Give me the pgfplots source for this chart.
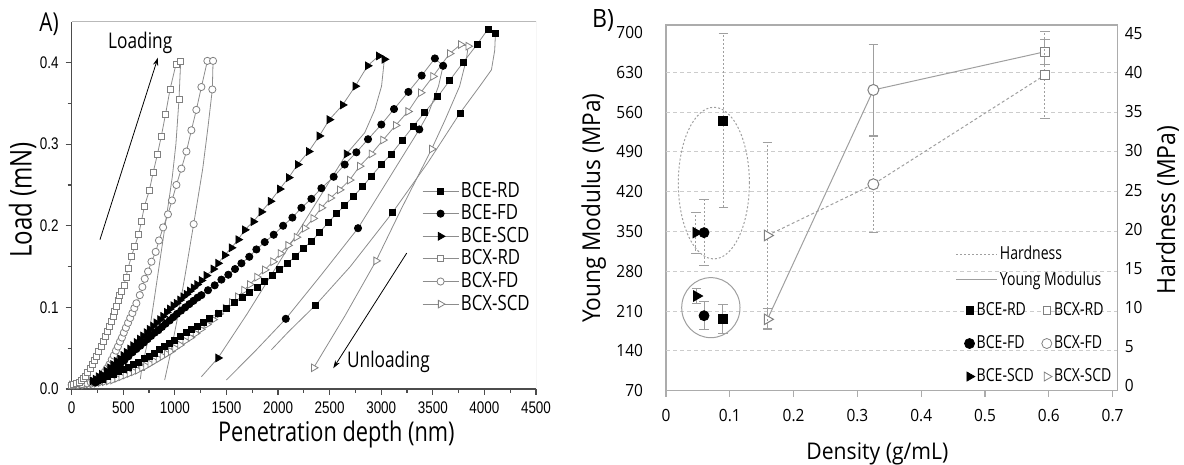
\documentclass[border=0pt]{standalone}
\usepackage{fontspec}
\setmainfont{Open Sans}
\newfontfamily\fa[FakeStretch=0.8]{Open Sans}
\newfontfamily\fat[FakeStretch=0.8]{Liberation Sans}
\newfontfamily\fb[FakeStretch=0.92]{Open Sans}
\newfontfamily\fbl[FakeStretch=0.78]{Open Sans}
\usepackage{pgfplots}
\pgfplotsset{compat=1.18}
\usetikzlibrary{arrows.meta}

\definecolor{ln}{gray}{0.55}
\definecolor{bcx}{gray}{0.5}
\definecolor{grd}{gray}{0.8}
\definecolor{ax}{gray}{0.3}

\pgfplotsset{
  eRD/.style={color=ln, line width=0.4pt, mark=square*, mark size=1.5pt, mark options={solid, fill=black, draw=black}},
  eFD/.style={color=ln, line width=0.4pt, mark=*, mark size=1.8pt, mark options={solid, fill=black, draw=black}},
  eSCD/.style={color=ln, line width=0.4pt, mark=triangle*, mark size=2.2pt, mark options={solid, fill=black, draw=black, rotate=-90}},
  xRD/.style={color=ln, line width=0.4pt, mark=square*, mark size=1.5pt, mark options={solid, fill=white, draw=bcx}},
  xFD/.style={color=ln, line width=0.4pt, mark=*, mark size=1.8pt, mark options={solid, fill=white, draw=bcx}},
  xSCD/.style={color=ln, line width=0.4pt, mark=triangle*, mark size=2.2pt, mark options={solid, fill=white, draw=bcx, rotate=-90}},
  unl/.style={color=ln, line width=0.4pt},
  yerr/.style={/pgfplots/error bars/y dir=both, /pgfplots/error bars/y explicit,
    /pgfplots/error bars/error bar style={gray!75, line width=0.5pt, solid},
    /pgfplots/error bars/error mark options={rotate=90, gray!75, mark size=2.4pt, line width=0.5pt, solid}},
  herr/.style={/pgfplots/error bars/y dir=both, /pgfplots/error bars/y explicit,
    /pgfplots/error bars/error bar style={gray!75, line width=0.5pt, dash pattern=on 1pt off 1pt},
    /pgfplots/error bars/error mark options={rotate=90, gray!75, mark size=2.4pt, line width=0.5pt, solid}},
}

\begin{document}
\begin{tikzpicture}
\path[use as bounding box] (0,0) rectangle (592pt,232.5pt);

% ---------------- A) load-depth curves
\begin{axis}[
  at={(35.85pt,38pt)}, anchor=south west,
  scale only axis, width=232.15pt, height=183.65pt,
  xmin=0, xmax=4500, ymin=0, ymax=0.45,
  axis x line*=bottom, axis y line*=left,
  axis line style={ax, line width=0.8pt, -},
  xtick={0,500,1000,1500,2000,2500,3000,3500,4000,4500},
  ytick={0,0.1,0.2,0.3,0.4},
  minor x tick num=1, minor y tick num=1,
  tick align=outside, major tick length=3pt, minor tick length=2pt,
  tick style={ax, line width=0.6pt},
  /pgf/number format/assume math mode=true,
  ticklabel style={font=\fat\fontsize{8.4}{10}\selectfont},
  xticklabel style={/pgf/number format/1000 sep={}},
  yticklabel style={/pgf/number format/fixed, /pgf/number format/fixed zerofill, /pgf/number format/precision=1},
  xlabel={Penetration depth (nm)}, ylabel={Load (mN)},
  xlabel style={font=\fa\fontsize{13.6}{15}\selectfont, at={(axis description cs:0.570,-0.1435)}, anchor=base},
  ylabel style={font=\fa\fontsize{15}{16}\selectfont, at={(axis description cs:-0.0862,0.515)}, anchor=base, rotate=0},
  legend style={draw=none, fill=none, at={(0.754,0.385)}, anchor=west,
    font=\fa\fontsize{10.5}{11}\selectfont, inner sep=0pt, row sep=0.2pt, nodes={inner sep=1pt}},
  legend cell align=left,
  legend image code/.code={\draw[mark repeat=2,mark phase=2] plot coordinates {(0pt,0pt) (9pt,0pt) (18pt,0pt)};},
]
% unloading branches
\addplot[unl, forget plot] coordinates {(1056,0.401) (1040,0.355) (1010,0.300) (975,0.260) (943,0.232) (870,0.170) (800,0.110) (740,0.060) (680,0.026) (665,0.012)};
\addplot[unl, forget plot] coordinates {(1370,0.402) (1363,0.367) (1320,0.320) (1270,0.270) (1225,0.235) (1182,0.202) (1100,0.140) (1030,0.090) (960,0.045) (901,0.011)};
\addplot[unl, forget plot] coordinates {(3843,0.420) (3825,0.404) (3760,0.371) (3620,0.330) (3489,0.294) (3200,0.222) (2950,0.157) (2650,0.090) (2345,0.026)};
\addplot[unl, forget plot] coordinates {(4107,0.436) (4100,0.415) (4068,0.391) (3955,0.371) (3763,0.338) (3450,0.277) (3108,0.216) (2700,0.150) (2358,0.102) (2100,0.070) (1935,0.048)};
\addplot[unl, forget plot] coordinates {(3600,0.396) (3555,0.371) (3458,0.338) (3369,0.318) (3070,0.257) (2775,0.197) (2420,0.140) (2075,0.086) (1790,0.048) (1499,0.011)};
\addplot[unl, forget plot] coordinates {(3030,0.404) (3019,0.390) (3003,0.371) (2937,0.342) (2840,0.314) (2663,0.288) (2310,0.216) (2000,0.153) (1700,0.092) (1418,0.038) (1257,0.015)};
% markers on the unloading branches
\addplot[xRD, only marks, forget plot] coordinates {(1040,0.355) (680,0.026)};
\addplot[xFD, only marks, forget plot] coordinates {(1363,0.367) (1182,0.202)};
\addplot[xSCD, only marks, forget plot] coordinates {(3489,0.294) (2950,0.157) (2345,0.026)};
\addplot[eRD, only marks, forget plot] coordinates {(3763,0.338) (3108,0.216) (2358,0.102)};
\addplot[eFD, only marks, forget plot] coordinates {(3369,0.318) (2775,0.197) (2075,0.086)};
\addplot[eSCD, only marks, forget plot] coordinates {(2663,0.288) (1418,0.038)};
% loading branches
\addplot[xSCD, forget plot] coordinates {
(0,0.005) (40,0.005) (80,0.005) (120,0.005) (160,0.006) (200,0.006) (240,0.007) (280,0.008) (320,0.009) (360,0.010)
(400,0.011) (440,0.013) (480,0.015) (520,0.017) (560,0.019) (600,0.021) (640,0.023) (680,0.026) (720,0.028) (760,0.031)
(800,0.034) (840,0.037) (880,0.040) (920,0.043) (960,0.046) (1000,0.050) (1050,0.054) (1100,0.059) (1150,0.063) (1200,0.068)
(1250,0.073) (1310,0.079) (1370,0.085) (1430,0.092) (1490,0.099) (1550,0.106) (1610,0.113) (1670,0.121) (1725,0.128) (1796,0.137)
(1871,0.146) (1951,0.156) (2023,0.166) (2097,0.176) (2178,0.186) (2258,0.197) (2341,0.209) (2420,0.222) (2507,0.234) (2597,0.244)
(2694,0.256) (2791,0.273) (2905,0.288) (3017,0.305) (3140,0.323) (3260,0.340) (3382,0.363) (3502,0.383) (3663,0.411) (3770,0.422) (3843,0.420)};
\addplot[xFD, forget plot] coordinates {
(0,0.005) (50,0.005) (100,0.006) (150,0.007) (185,0.008) (210,0.009) (235,0.011) (260,0.013) (281,0.015) (300,0.018)
(320,0.021) (340,0.025) (365,0.030) (388,0.036) (408,0.041) (429,0.047) (448,0.052) (468,0.058) (487,0.063) (505,0.069)
(525,0.075) (546,0.081) (567,0.087) (588,0.093) (607,0.099) (627,0.105) (660,0.115) (685,0.125) (708,0.135) (740,0.144)
(773,0.156) (814,0.168) (846,0.182) (886,0.198) (933,0.214) (972,0.231) (1015,0.250) (1063,0.270) (1112,0.291) (1160,0.317)
(1208,0.342) (1257,0.370) (1315,0.402) (1370,0.402)};
\addplot[xRD, forget plot] coordinates {
(0,0.005) (20,0.006) (45,0.007) (70,0.008) (95,0.010) (113,0.013) (135,0.016) (155,0.020) (177,0.025) (200,0.030)
(220,0.035) (240,0.040) (262,0.046) (288,0.052) (305,0.058) (323,0.064) (345,0.070) (365,0.077) (383,0.083) (400,0.089)
(417,0.095) (433,0.101) (450,0.108) (465,0.115) (485,0.120) (506,0.127) (526,0.137) (546,0.148) (578,0.162) (611,0.175)
(650,0.190) (675,0.205) (705,0.224) (752,0.243) (789,0.265) (830,0.287) (869,0.310) (910,0.337) (953,0.367) (1011,0.398) (1056,0.401)};
\addplot[eRD, forget plot] coordinates {
(250,0.010) (300,0.012) (350,0.015) (400,0.018) (450,0.021) (500,0.024) (550,0.027) (600,0.030) (650,0.033) (700,0.037)
(750,0.040) (800,0.044) (850,0.048) (900,0.052) (950,0.056) (1000,0.060) (1050,0.064) (1112,0.069) (1160,0.073) (1215,0.077)
(1273,0.082) (1337,0.087) (1418,0.093) (1499,0.099) (1580,0.106) (1657,0.112) (1725,0.118) (1796,0.125) (1871,0.132) (1948,0.139)
(2016,0.146) (2089,0.154) (2171,0.163) (2242,0.172) (2323,0.181) (2404,0.192) (2485,0.204) (2568,0.215) (2646,0.225) (2730,0.236)
(2820,0.248) (2905,0.261) (3001,0.275) (3098,0.288) (3205,0.305) (3311,0.322) (3421,0.339) (3547,0.358) (3663,0.378) (3793,0.400)
(3928,0.422) (4035,0.441) (4107,0.436)};
\addplot[eFD, forget plot] coordinates {
(230,0.008) (260,0.010) (300,0.012) (340,0.016) (380,0.020) (420,0.025) (468,0.030) (510,0.035) (550,0.040) (590,0.045)
(627,0.049) (665,0.053) (700,0.057) (735,0.061) (770,0.065) (805,0.069) (840,0.072) (875,0.076) (910,0.080) (950,0.084)
(985,0.088) (1020,0.092) (1060,0.096) (1100,0.100) (1140,0.104) (1180,0.108) (1220,0.112) (1257,0.115) (1321,0.121) (1386,0.127)
(1451,0.134) (1518,0.140) (1583,0.147) (1645,0.154) (1721,0.162) (1790,0.171) (1871,0.180) (1958,0.189) (2049,0.200) (2139,0.210)
(2226,0.222) (2323,0.233) (2420,0.246) (2539,0.260) (2646,0.275) (2759,0.290) (2872,0.306) (3001,0.324) (3124,0.343) (3263,0.364)
(3392,0.384) (3520,0.405) (3600,0.396)};
\addplot[eSCD, forget plot] coordinates {
(200,0.010) (230,0.012) (260,0.015) (290,0.018) (336,0.022) (370,0.026) (400,0.030) (435,0.034) (468,0.037) (500,0.041)
(530,0.045) (565,0.049) (595,0.053) (627,0.057) (660,0.061) (690,0.065) (725,0.069) (755,0.073) (788,0.077) (820,0.081)
(855,0.085) (885,0.089) (920,0.094) (950,0.098) (985,0.102) (1015,0.105) (1050,0.109) (1080,0.113) (1112,0.116) (1145,0.120)
(1180,0.124) (1215,0.128) (1257,0.133) (1305,0.139) (1372,0.147) (1418,0.154) (1483,0.164) (1548,0.173) (1613,0.183) (1677,0.195)
(1760,0.205) (1838,0.217) (1926,0.230) (2016,0.245) (2103,0.259) (2190,0.275) (2297,0.291) (2400,0.310) (2497,0.330) (2626,0.348)
(2748,0.371) (2868,0.396) (2975,0.408) (3030,0.404)};
% legend
\addlegendimage{eRD}\addlegendentry{BCE-RD}
\addlegendimage{eFD}\addlegendentry{BCE-FD}
\addlegendimage{eSCD}\addlegendentry{BCE-SCD}
\addlegendimage{xRD}\addlegendentry{BCX-RD}
\addlegendimage{xFD}\addlegendentry{BCX-FD}
\addlegendimage{xSCD}\addlegendentry{BCX-SCD}
% frame, arrows and notes
\draw[gray!55, line width=0.5pt] (rel axis cs:0,1) -- (rel axis cs:1,1) -- (rel axis cs:1,0);
\draw[line width=0.4pt, -{Stealth[length=4pt, width=2.6pt]}] (axis cs:274,0.183) -- (axis cs:836,0.406);
\draw[line width=0.4pt, -{Stealth[length=4pt, width=2.6pt]}] (axis cs:3247,0.1665) -- (axis cs:2535,0.0254);
\node[font=\fa\fontsize{10.8}{12}\selectfont] at (axis cs:664,0.424) {Loading};
\node[font=\fa\fontsize{10.8}{12}\selectfont, anchor=west, inner sep=0pt] at (axis cs:2665,0.0335) {Unloading};
\end{axis}

% ---------------- B) Young modulus (left axis)
\begin{axis}[
  at={(333pt,37.15pt)}, anchor=south west,
  scale only axis, width=225.85pt, height=182.85pt,
  xmin=0, xmax=0.708, ymin=70, ymax=713,
  axis line style={gray!65, line width=0.6pt},
  xtick={0,0.1,0.2,0.3,0.4,0.5,0.6,0.7},
  ytick={70,140,210,280,350,420,490,560,630,700},
  xtick pos=bottom, ytick pos=left,
  tick align=outside, major tick length=3pt,
  tick style={gray!65, line width=0.6pt},
  ytick style={draw=none},
  extra y ticks={140,210,280,350,420,490,560,630},
  extra y tick labels={},
  extra y tick style={grid=major},
  grid style={grd, dash pattern=on 2pt off 1.5pt, line width=0.4pt},
  /pgf/number format/assume math mode=true,
  ticklabel style={font=\fb\fontsize{8.4}{10}\selectfont},
  yticklabel style={xshift=-5pt},
  xticklabel style={yshift=-3pt},
  xlabel={Density (g/mL)}, ylabel={Young Modulus (MPa)},
  xlabel style={font=\fb\fontsize{11.5}{13}\selectfont, at={(axis description cs:0.468,-0.1876)}, anchor=base},
  ylabel style={font=\fb\fontsize{12.3}{14}\selectfont, at={(axis description cs:-0.146,0.499)}, anchor=base},
  legend style={draw=none, fill=none, at={(0.641,0.338)}, anchor=west,
    font=\fbl\fontsize{9}{10}\selectfont, inner sep=0pt, row sep=2.5pt, nodes={inner sep=1pt}},
  legend cell align=left,
  legend image code/.code={\draw (0pt,0pt) -- (20.5pt,0pt);},
]
\draw[gray!75, line width=0.5pt, dash pattern=on 1pt off 1pt] (axis cs:0.075,435) ellipse [x radius=0.0557, y radius=133.3];
\draw[gray!75, line width=0.5pt] (axis cs:0.0703,216) ellipse [x radius=0.0457, y radius=52.8];
\addplot[gray!75, line width=0.5pt, forget plot] coordinates {(0.159,195.5) (0.325,598.8) (0.594,666)};
\addplot[forget plot, only marks, mark=triangle*, mark size=3pt, mark options={solid, fill=white, draw=bcx, line width=0.5pt, rotate=-90}, yerr]
  coordinates {(0.159,195.5) +- (0,18.5)};
\addplot[forget plot, only marks, mark=*, mark size=2.75pt, mark options={solid, fill=white, draw=bcx, line width=0.5pt}, yerr]
  coordinates {(0.325,598.8) +- (0,80)};
\addplot[forget plot, only marks, mark=square*, mark size=2.3pt, mark options={solid, fill=white, draw=bcx, line width=0.5pt}, yerr]
  coordinates {(0.594,666) +- (0,22)};
\addplot[forget plot, only marks, mark=triangle*, mark size=3pt, mark options={solid, fill=black, draw=black, rotate=-90}, yerr]
  coordinates {(0.048,236.5) +- (0,14)};
\addplot[forget plot, only marks, mark=*, mark size=2.5pt, mark options={solid, fill=black, draw=black}, yerr]
  coordinates {(0.0596,201.9) +- (0,25)};
\addplot[forget plot, only marks, mark=square*, mark size=2.25pt, mark options={solid, fill=black, draw=black}, yerr]
  coordinates {(0.089,196.1) +- (0,25.5)};
\addlegendimage{gray!75, line width=0.5pt, dash pattern=on 1pt off 1pt}\addlegendentry{Hardness}
\addlegendimage{gray!75, line width=0.5pt}\addlegendentry{Young Modulus}
\end{axis}

% ---------------- B) hardness (right axis)
\begin{axis}[
  at={(333pt,37.15pt)}, anchor=south west,
  scale only axis, width=225.85pt, height=182.85pt,
  xmin=0, xmax=0.708, ymin=-0.63, ymax=46.09,
  axis x line=none, axis y line*=right,
  axis line style={gray!65, line width=0.6pt, -},
  ytick={0,5,10,15,20,25,30,35,40,45},
  ytick style={draw=none},
  /pgf/number format/assume math mode=true,
  ticklabel style={font=\fb\fontsize{8.4}{10}\selectfont},
  ylabel={Hardness (MPa)},
  ylabel style={font=\fb\fontsize{12.5}{14}\selectfont, at={(axis description cs:1.127,0.494)}, anchor=base, rotate=0},
]
\addplot[gray!75, line width=0.5pt, dash pattern=on 1.5pt off 1.2pt] coordinates {(0.159,19.2) (0.325,25.74) (0.594,39.7)};
\addplot[only marks, mark=triangle*, mark size=3pt, mark options={solid, fill=white, draw=bcx, line width=0.5pt, rotate=-90}, herr]
  coordinates {(0.159,19.2) +- (0,11.9)};
\addplot[only marks, mark=*, mark size=2.75pt, mark options={solid, fill=white, draw=bcx, line width=0.5pt}, herr]
  coordinates {(0.325,25.74) +- (0,6.1)};
\addplot[only marks, mark=square*, mark size=2.3pt, mark options={solid, fill=white, draw=bcx, line width=0.5pt}, herr]
  coordinates {(0.594,39.7) +- (0,5.5)};
\addplot[only marks, mark=triangle*, mark size=3pt, mark options={solid, fill=black, draw=black, rotate=-90}, herr]
  coordinates {(0.047,19.56) +- (0,2.6)};
\addplot[only marks, mark=*, mark size=2.5pt, mark options={solid, fill=black, draw=black}, herr]
  coordinates {(0.0596,19.56) +- (0,4.25)};
\addplot[only marks, mark=square*, mark size=2.25pt, mark options={solid, fill=black, draw=black}, herr]
  coordinates {(0.0898,33.86) +- (0,11.1)};
\end{axis}

% ---------------- B) marker legend
\begin{axis}[
  at={(333pt,37.15pt)}, anchor=south west,
  scale only axis, width=225.85pt, height=182.85pt,
  xmin=0, xmax=1, ymin=0, ymax=1, hide axis,
  legend columns=2,
  legend style={draw=none, fill=none, at={(0.66,0.129)}, anchor=west,
    font=\fbl\fontsize{9}{10}\selectfont, inner sep=0pt, row sep=6.5pt,
    nodes={inner sep=1pt}, /tikz/every even column/.append style={column sep=3pt}},
  legend cell align=left,
  legend image code/.code={\draw plot coordinates {(0pt,0pt)};},
]
\addlegendimage{only marks, mark=square*, mark size=1.8pt, mark options={fill=black, draw=black}}\addlegendentry{BCE-RD}
\addlegendimage{only marks, mark=square*, mark size=1.8pt, mark options={fill=white, draw=bcx}}\addlegendentry{BCX-RD}
\addlegendimage{only marks, mark=*, mark size=2.5pt, mark options={fill=black, draw=black}}\addlegendentry{BCE-FD}
\addlegendimage{only marks, mark=*, mark size=2.5pt, mark options={fill=white, draw=bcx}}\addlegendentry{BCX-FD}
\addlegendimage{only marks, mark=triangle*, mark size=2.6pt, mark options={fill=black, draw=black, rotate=-90}}\addlegendentry{BCE-SCD}
\addlegendimage{only marks, mark=triangle*, mark size=2.6pt, mark options={fill=white, draw=bcx, rotate=-90}}\addlegendentry{BCX-SCD}
\end{axis}

\node[font=\fa\fontsize{13}{14}\selectfont] at (24.5pt,220.5pt) {A)};
\node[font=\fb\fontsize{12.6}{14}\selectfont] at (301.5pt,222pt) {B)};
\end{tikzpicture}
\end{document}
